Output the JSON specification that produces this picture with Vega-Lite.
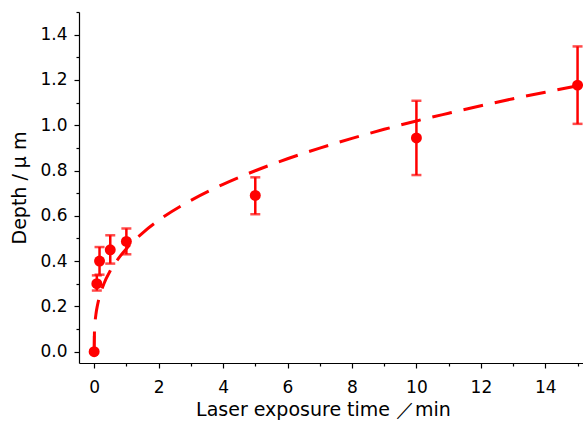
{
  "$schema": "https://vega.github.io/schema/vega-lite/v6.json",
  "width": 505,
  "height": 351,
  "autosize": {"type": "none"},
  "padding": {"left": 79, "top": 12, "right": 0, "bottom": 62},
  "background": "white",
  "config": {
    "view": {"stroke": null},
    "font": "DejaVu Sans",
    "axis": {
      "domainColor": "black",
      "domainWidth": 1.2,
      "tickColor": "black",
      "tickWidth": 1.2,
      "labelColor": "black",
      "titleColor": "black",
      "labelFont": "DejaVu Sans",
      "titleFont": "DejaVu Sans",
      "labelFontSize": 17,
      "titleFontSize": 19,
      "titleFontWeight": "normal",
      "grid": false
    }
  },
  "datasets": {
    "pts": [
      {"t": 0, "depth": 0.0, "lo": 0.0, "hi": 0.07},
      {"t": 0.083, "depth": 0.30, "lo": 0.27, "hi": 0.337},
      {"t": 0.167, "depth": 0.40, "lo": 0.34, "hi": 0.462},
      {"t": 0.5, "depth": 0.45, "lo": 0.389, "hi": 0.514},
      {"t": 1, "depth": 0.487, "lo": 0.43, "hi": 0.544},
      {"t": 5, "depth": 0.69, "lo": 0.607, "hi": 0.77},
      {"t": 10, "depth": 0.944, "lo": 0.78, "hi": 1.108},
      {"t": 15, "depth": 1.177, "lo": 1.006, "hi": 1.348}
    ],
    "fit": [
      {"t": 0, "depth": 0},
      {"t": 0.01, "depth": 0.091},
      {"t": 0.03, "depth": 0.133},
      {"t": 0.06, "depth": 0.170},
      {"t": 0.1, "depth": 0.203},
      {"t": 0.2, "depth": 0.259},
      {"t": 0.3, "depth": 0.299},
      {"t": 0.5, "depth": 0.357},
      {"t": 0.75, "depth": 0.411},
      {"t": 1, "depth": 0.455},
      {"t": 1.5, "depth": 0.524},
      {"t": 2, "depth": 0.580},
      {"t": 3, "depth": 0.668},
      {"t": 4, "depth": 0.739},
      {"t": 5, "depth": 0.799},
      {"t": 6, "depth": 0.852},
      {"t": 7, "depth": 0.899},
      {"t": 8, "depth": 0.942},
      {"t": 9, "depth": 0.982},
      {"t": 10, "depth": 1.019},
      {"t": 11, "depth": 1.053},
      {"t": 12, "depth": 1.086},
      {"t": 13, "depth": 1.117},
      {"t": 14, "depth": 1.146},
      {"t": 15, "depth": 1.174}
    ]
  },
  "encoding": {
    "x": {
      "field": "t", "type": "quantitative",
      "scale": {"domain": [-0.47, 15.2], "nice": false, "zero": false},
      "axis": {
        "title": "Laser exposure time ／min",
        "values": [0,1,2,3,4,5,6,7,8,9,10,11,12,13,14,15],
        "labelExpr": "datum.value % 2 === 0 ? datum.label : ''",
        "tickSize": {"condition": {"test": "datum.value % 2 === 0", "value": 5}, "value": 3},
        "labelPadding": 11,
        "titlePadding": 5,
        "titleX": 244
      }
    },
    "y": {
      "field": "depth", "type": "quantitative",
      "scale": {"domain": [-0.05, 1.5], "nice": false, "zero": false},
      "axis": {
        "title": "Depth / μ m",
        "values": [0,0.1,0.2,0.3,0.4,0.5,0.6,0.7,0.8,0.9,1.0,1.1,1.2,1.3,1.4,1.5],
        "labelExpr": "round(datum.value*10) % 2 === 0 ? format(datum.value, '.1f') : ''",
        "tickSize": {"condition": {"test": "round(datum.value*10) % 2 === 0", "value": 5}, "value": 3},
        "labelPadding": 7,
        "titlePadding": 10
      }
    }
  },
  "layer": [
    {
      "data": {"name": "fit"},
      "mark": {"type": "line", "color": "#ff0000", "strokeWidth": 3, "strokeDash": [20, 12], "interpolate": "monotone", "clip": true}
    },
    {
      "data": {"name": "pts"},
      "mark": {"type": "rule", "color": "#ff0000", "strokeWidth": 2.5, "clip": true},
      "encoding": {"y": {"field": "lo", "type": "quantitative"}, "y2": {"field": "hi"}}
    },
    {
      "data": {"name": "pts"},
      "transform": [{"filter": "datum.t > 0"}],
      "mark": {"type": "tick", "color": "#ff0000", "orient": "horizontal", "size": 10, "thickness": 2.5},
      "encoding": {"y": {"field": "lo", "type": "quantitative"}}
    },
    {
      "data": {"name": "pts"},
      "transform": [{"filter": "datum.t > 0"}],
      "mark": {"type": "tick", "color": "#ff0000", "orient": "horizontal", "size": 10, "thickness": 2.5},
      "encoding": {"y": {"field": "hi", "type": "quantitative"}}
    },
    {
      "data": {"name": "pts"},
      "mark": {"type": "circle", "color": "#ff0000", "opacity": 1, "size": 120},
      "encoding": {}
    }
  ]
}
